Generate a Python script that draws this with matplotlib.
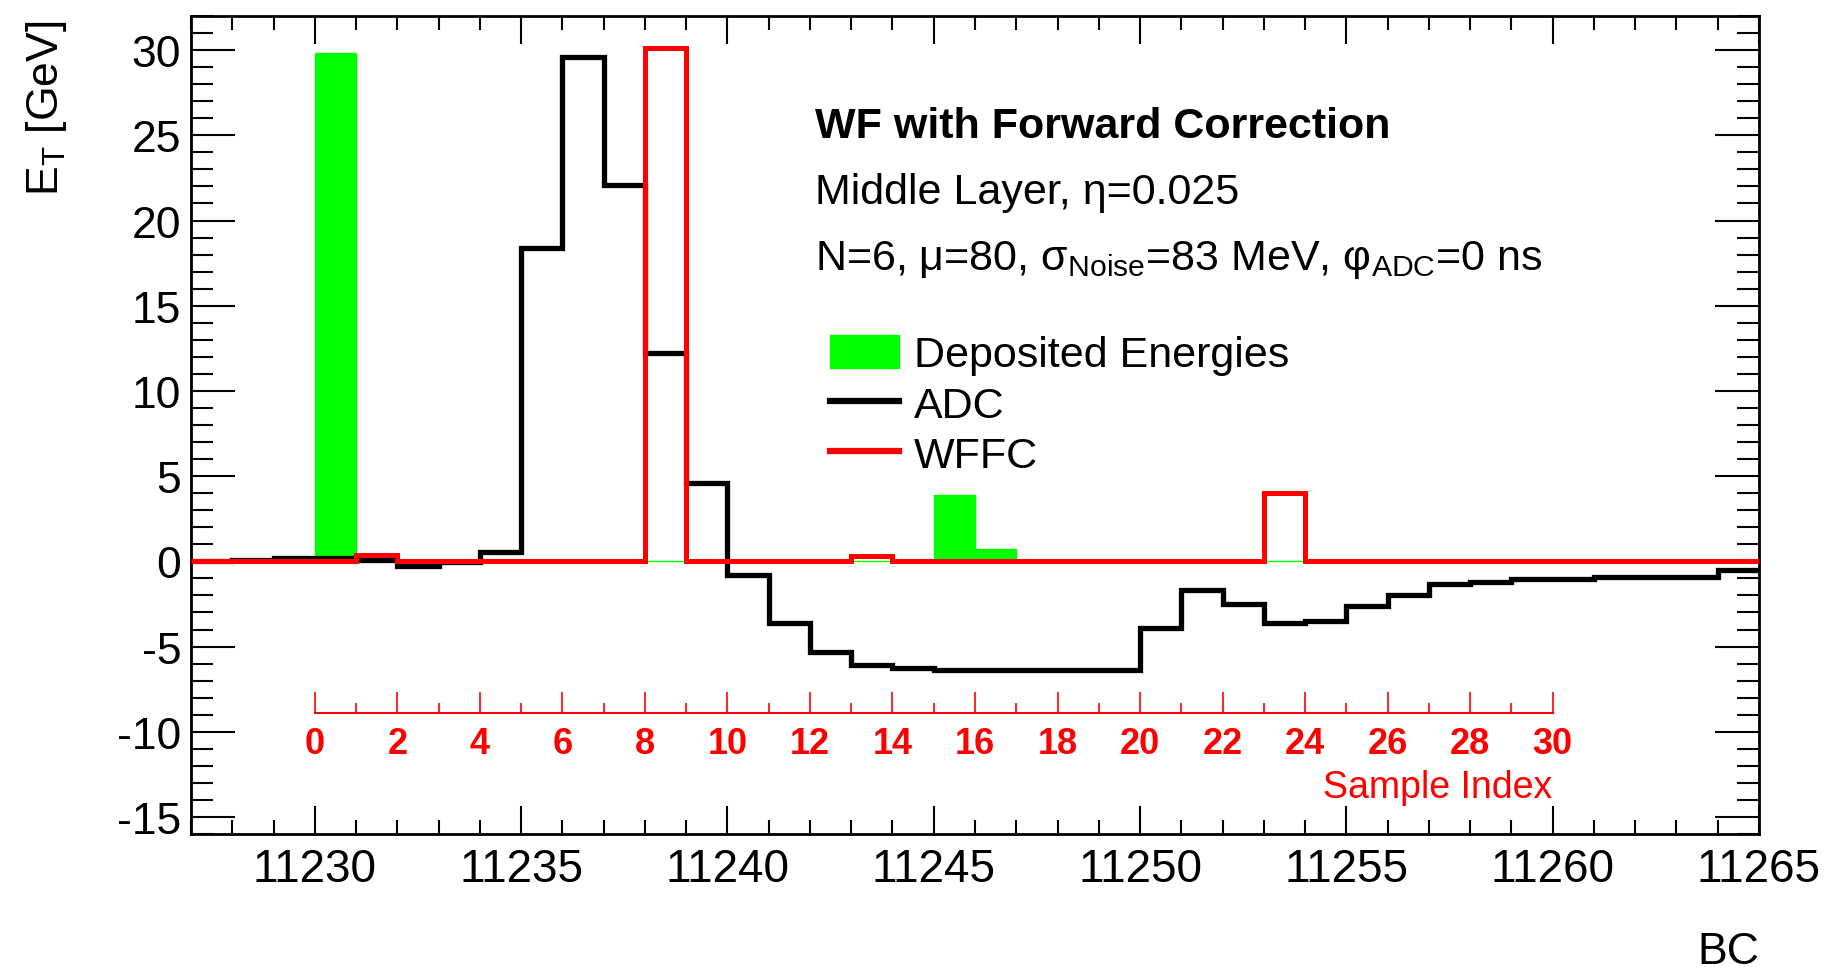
import matplotlib
matplotlib.use("Agg")
import matplotlib.pyplot as plt
from matplotlib.patches import Patch
from matplotlib.lines import Line2D
from matplotlib.ticker import MultipleLocator
import numpy as np

# ==========================================
# DATOS
# ==========================================

bc_edges = np.arange(11227, 11266)   # 38 bins de 1 BC

adc = [0.0, 0.05, 0.2, 0.2, 0.05, -0.3, -0.05, 0.55,
       18.4, 29.6, 22.1, 12.2, 4.6, -0.8, -3.6, -5.3,
       -6.1, -6.25, -6.35, -6.4, -6.4, -6.4, -6.35, -3.9,
       -1.7, -2.5, -3.6, -3.5, -2.6, -2.0, -1.35, -1.2,
       -1.05, -1.05, -0.9, -0.9, -0.9, -0.5]

wffc = [0.0, 0.0, 0.0, 0.0, 0.35, 0.0, 0.0, 0.0,
        0.0, 0.0, 0.0, 30.1, 0.0, 0.0, 0.0, 0.0,
        0.3, 0.0, 0.0, 0.0, 0.0, 0.0, 0.0, 0.0,
        0.0, 0.0, 4.0, 0.0, 0.0, 0.0, 0.0, 0.0,
        0.0, 0.0, 0.0, 0.0, 0.0, 0.0]

deposited = [0.0, 0.0, 0.0, 29.8, 0.0, 0.0, 0.0, 0.0,
             0.0, 0.0, 0.0, 0.0, 0.0, 0.0, 0.0, 0.0,
             0.0, 0.0, 3.9, 0.75, 0.0, 0.0, 0.0, 0.0,
             0.0, 0.0, 0.0, 0.0, 0.0, 0.0, 0.0, 0.0,
             0.0, 0.0, 0.0, 0.0, 0.0, 0.0]

sample_offset = 11230      # sample 0 <-> BC 11230
sample_range = (0, 30)
sample_axis_y = -8.9       # altura del eje rojo, en GeV

x_ticks = np.arange(11230, 11266, 5)
y_ticks = np.arange(-15, 31, 5)

GREEN = "#00ff00"
RED = "#ff0000"

plt.rcParams["font.family"] = ["Liberation Sans", "DejaVu Sans"]
plt.rcParams["mathtext.default"] = "regular"
plt.rcParams["axes.unicode_minus"] = False

# ==========================================
# FIGURA
# ==========================================

W, H = 1830, 970
fig = plt.figure(figsize=(W / 100, H / 100), dpi=100)

left, right, top, bottom = 191, 1759, 17, 835
ax = fig.add_axes([left / W, 1 - bottom / H, (right - left) / W, (bottom - top) / H])

ax.stairs(deposited, bc_edges, fill=True, color=GREEN, zorder=1)
ax.stairs(deposited, bc_edges, color=GREEN, lw=1, baseline=None, zorder=1)
ax.stairs(adc, bc_edges, color="black", lw=3.8, baseline=None, zorder=2)
ax.stairs(wffc, bc_edges, color=RED, lw=3.6, baseline=None, zorder=3)

ax.set_xlim(11227, 11265)
ax.set_ylim(-16, 32)

ax.set_xticks(x_ticks)
ax.set_yticks(y_ticks)
ax.xaxis.set_minor_locator(MultipleLocator(1))
ax.yaxis.set_minor_locator(MultipleLocator(1))

ax.tick_params(which="both", direction="in", top=True, right=True, width=1.5)
ax.tick_params(axis="x", which="major", length=20, labelsize=33, pad=9)
ax.tick_params(axis="x", which="minor", length=10)
ax.tick_params(axis="y", which="major", length=32, labelsize=32, pad=7)
ax.tick_params(axis="y", which="minor", length=16)

for s in ax.spines.values():
    s.set_linewidth(2)

ax.set_ylabel("E$_{T}$ [GeV]", fontsize=32, loc="top")
ax.yaxis.set_label_coords(-0.078, 0.995)
ax.set_xlabel("BC", fontsize=32, loc="right")
ax.xaxis.set_label_coords(1.0, -0.118)

# ==========================================
# EJE SECUNDARIO (Sample Index)
# ==========================================

ax_s = ax.inset_axes([sample_offset + sample_range[0], sample_axis_y,
                      sample_range[1] - sample_range[0], 0.01],
                     transform=ax.transData)
ax_s.set_xlim(*sample_range)
ax_s.patch.set_visible(False)
ax_s.yaxis.set_visible(False)
for name in ["top", "left", "right"]:
    ax_s.spines[name].set_visible(False)
ax_s.spines["bottom"].set_color(RED)
ax_s.spines["bottom"].set_linewidth(1.5)
ax_s.set_xticks(np.arange(0, 31, 2))
ax_s.xaxis.set_minor_locator(MultipleLocator(1))
ax_s.tick_params(which="both", direction="in", colors=RED, width=1.2)
ax_s.tick_params(which="major", length=15, labelsize=26, pad=9)
ax_s.tick_params(which="minor", length=7.5)
for lab in ax_s.get_xticklabels():
    lab.set_fontweight("bold")
ax_s.set_xlabel("Sample Index", color=RED, fontsize=27, loc="right", labelpad=6)

# ==========================================
# TEXTOS Y LEYENDA
# ==========================================

def px(x, y):
    return x / W, 1 - y / H

fig.text(*px(815, 138), "WF with Forward Correction", fontsize=31,
         fontweight="bold", va="baseline")
fig.text(*px(815, 204), "Middle Layer, η=0.025", fontsize=31, va="baseline")
fig.text(*px(815, 270),
         "N=6, μ=80, σ$_{Noise}$=83 MeV, φ$_{ADC}$=0 ns",
         fontsize=31, va="baseline")

handles = [
    Patch(facecolor=GREEN, edgecolor=GREEN),
    Line2D([], [], color="black", lw=4.5),
    Line2D([], [], color=RED, lw=4.5),
]
ax.legend(handles, ["Deposited Energies", "ADC", "WFFC"],
          loc="upper left", bbox_to_anchor=px(830, 336),
          bbox_transform=fig.transFigure, frameon=False, fontsize=31,
          borderpad=0, borderaxespad=0, handlelength=1.6,
          handleheight=0.8, handletextpad=0.35, labelspacing=0.23)

fig.savefig("out.png", dpi=100)
